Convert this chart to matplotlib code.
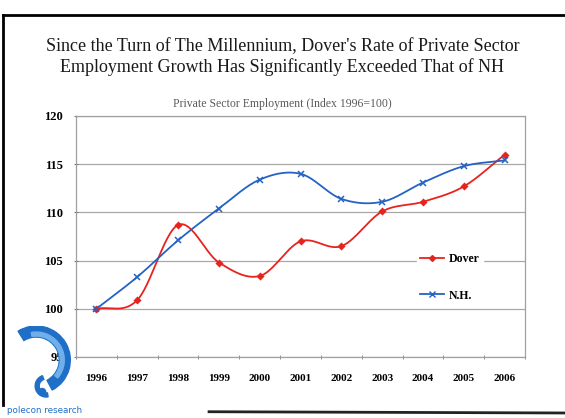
import numpy as np
import matplotlib.pyplot as plt
from matplotlib.lines import Line2D
from matplotlib.patches import Wedge, Circle

years = ['1996', '1997', '1998', '1999', '2000', '2001', '2002', '2003', '2004', '2005', '2006']
dover = [100.0, 100.9, 108.7, 104.8, 103.4, 107.0, 106.5, 110.1, 111.1, 112.7, 116.0]
nh = [100.0, 103.3, 107.1, 110.4, 113.4, 114.0, 111.4, 111.1, 113.1, 114.8, 115.4]
yticks = [95, 100, 105, 110, 115, 120]


def smooth(x, y, n=30):
    # Excel style smoothed line (Catmull-Rom between the points)
    x = np.asarray(x, float)
    y = np.asarray(y, float)
    px = np.concatenate([[2 * x[0] - x[1]], x, [2 * x[-1] - x[-2]]])
    py = np.concatenate([[2 * y[0] - y[1]], y, [2 * y[-1] - y[-2]]])
    xs, ys = [], []
    t = np.linspace(0, 1, n)
    for i in range(1, len(px) - 2):
        for arr, out in ((px, xs), (py, ys)):
            p0, p1, p2, p3 = arr[i - 1], arr[i], arr[i + 1], arr[i + 2]
            out.extend(0.5 * (2 * p1 + (-p0 + p2) * t
                              + (2 * p0 - 5 * p1 + 4 * p2 - p3) * t ** 2
                              + (-p0 + 3 * p1 - 3 * p2 + p3) * t ** 3))
    return np.array(xs), np.array(ys)


fig = plt.figure(figsize=(5.65, 4.18), dpi=100)
ax = fig.add_axes([0.1345, 0.146, 0.795, 0.5765])

serif = 'Liberation Serif'
red = '#e8231e'
blue = '#2462c4'

x = np.arange(len(years))
for vals, col, mk, ms, lab in ((dover, red, 'D', 3, 'Dover'), (nh, blue, 'x', 5, 'N.H.')):
    sx, sy = smooth(x, vals)
    ax.plot(sx, sy, color=col, lw=1.3, zorder=3)
    ax.plot(x, vals, ls='none', marker=mk, ms=ms, color=col, mew=1.1, zorder=4)

ax.set_xlim(-0.5, len(years) - 0.5)
ax.set_ylim(95, 120)
ax.set_yticks(yticks)
ax.set_yticklabels([str(v) for v in yticks], fontfamily=serif, fontweight='bold', fontsize=9)
ax.set_xticks(x)
ax.set_xticklabels(years, fontfamily=serif, fontweight='bold', fontsize=8)
ax.set_xticks(np.arange(-0.5, len(years)), minor=True)
ax.tick_params(axis='x', which='major', length=0, pad=12)
ax.tick_params(axis='x', which='minor', length=3, direction='inout', color='#777777')
ax.tick_params(axis='y', length=3, direction='inout', color='#777777', pad=8)
ax.grid(axis='y', color='#a8a8a8', lw=0.9)
ax.set_axisbelow(True)
for s in ax.spines.values():
    s.set_color('#a0a0a0')
    s.set_linewidth(0.9)

handles = [Line2D([], [], color=red, lw=1.3, marker='D', ms=3),
           Line2D([], [], color=blue, lw=1.3, marker='x', ms=5)]
leg = ax.legend(handles, ['Dover', 'N.H.'], loc='upper left',
                bbox_to_anchor=(0.727, 0.418), bbox_transform=fig.transFigure,
                frameon=True, facecolor='white', edgecolor='white', framealpha=1,
                labelspacing=2.1, handlelength=2.0, handletextpad=0.4,
                borderpad=0.3, fancybox=False,
                prop={'family': serif, 'weight': 'bold', 'size': 8.5})
leg.set_zorder(5)

fig.text(0.5, 0.889, "Since the Turn of The Millennium, Dover's Rate of Private Sector",
         ha='center', va='center', fontfamily=serif, fontsize=13, color='#1a1a1a')
fig.text(0.5, 0.840, "Employment Growth Has Significantly Exceeded That of NH",
         ha='center', va='center', fontfamily=serif, fontsize=13, color='#1a1a1a')
fig.text(0.5, 0.752, "Private Sector Employment (Index 1996=100)",
         ha='center', va='center', fontfamily=serif, fontsize=8.5, color='#5a5a5a')

# page border of the scanned slide
fig.add_artist(Line2D([0.005, 0.005], [0.03, 0.965], color='black', lw=2))
fig.add_artist(Line2D([0.005, 1.0], [0.965, 0.965], color='black', lw=2))
fig.add_artist(Line2D([0.37, 1.0], [0.015, 0.012], color='#222222', lw=2))

# logo (pixel-like units, y measured from the bottom)
lax = fig.add_axes([0.0, 0.0, 0.16, 0.22])
lax.set_xlim(0, 90)
lax.set_ylim(0, 92)
lax.axis('off')
lax.add_patch(Wedge((36, 58), 34, -62, 122, width=11, color='#1f6fc8'))
lax.add_patch(Wedge((36, 58), 28, -40, 100, width=4, color='#6fb0ea'))
lax.add_patch(Wedge((46, 32), 11, 110, 280, width=4, color='#1f6fc8'))
lax.add_patch(Circle((42, 26), 3.5, color='#1f6fc8'))
fig.text(0.012, 0.017, 'polecon research', fontfamily='DejaVu Sans', fontsize=6.3,
         color='#1f6fc8', ha='left', va='center')

fig.savefig('out.png', dpi=100)
